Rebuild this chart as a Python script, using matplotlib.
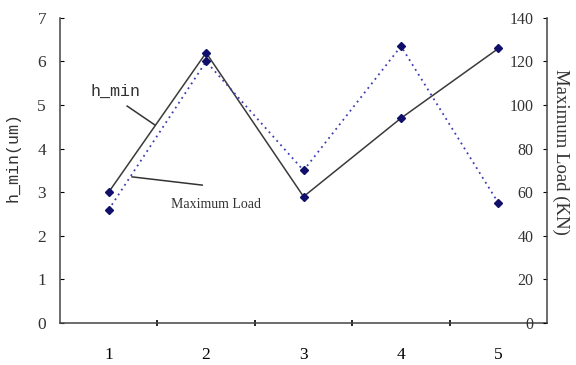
import matplotlib.pyplot as plt

categories = [1, 2, 3, 4, 5]
h_min = [3.0, 6.2, 2.9, 4.7, 6.3]
max_load = [52, 120, 70, 127, 55]
left_ticks = [0, 1, 2, 3, 4, 5, 6, 7]
right_ticks = [0, 20, 40, 60, 80, 100, 120, 140]

plt.rcParams['font.family'] = ['Liberation Serif', 'DejaVu Serif']

fig = plt.figure(figsize=(5.76, 3.65), dpi=100)
ax = fig.add_axes([0.104, 0.115, 0.846, 0.836])
ax2 = ax.twinx()

ax.plot(categories, h_min, color='#3a3a3a', lw=1.1, marker='D', ms=4,
        mfc='#10106a', mec='#10106a', zorder=3)
ax2.plot(categories, max_load, color='#3c3cb4', lw=1.3, ls=(0, (1, 2.2)),
         marker='D', ms=4, mfc='#10106a', mec='#10106a', zorder=3)

ax.set_xlim(0.5, 5.5)
ax.set_ylim(0, 7)
ax2.set_ylim(0, 140)

ax.set_xticks(categories)
ax.set_xticks([1.5, 2.5, 3.5, 4.5], minor=True)
ax.tick_params(axis='x', which='major', length=0, pad=17, labelsize=12.5)
ax.tick_params(axis='x', which='minor', direction='inout', length=5, width=1.2)

ax.set_yticks(left_ticks)
ax.tick_params(axis='y', direction='in', length=3, pad=10, labelsize=12.5,
               labelcolor='#333333')
ax2.set_yticks(right_ticks, labels=[str(t) for t in right_ticks], ha='right')
ax2.tick_params(axis='y', direction='in', length=3, pad=-10, labelsize=11.5,
                labelcolor='#333333')

for a in (ax, ax2):
    a.spines['top'].set_visible(False)
    for s in a.spines.values():
        s.set_color('#444444')
        s.set_linewidth(1.1)
ax.spines['right'].set_visible(False)
ax2.spines['left'].set_visible(False)
ax2.spines['bottom'].set_visible(False)

ax.set_ylabel('h_min(um)', fontsize=12, family='Liberation Mono', color='#333333')
ax.yaxis.set_label_coords(-0.08, 0.545)
ax2.set_ylabel('Maximum Load (KN)', fontsize=13.5, rotation=-90, color='#333333')
ax2.yaxis.set_label_coords(1.045, 0.56)

ax.text(0.115, 0.76, 'h_min', transform=ax.transAxes, ha='center', va='center',
        fontsize=12, family='Liberation Mono', color='#333333')
ax.plot([0.138, 0.195], [0.711, 0.649], transform=ax.transAxes,
        color='#333333', lw=1.1)
ax.text(0.32, 0.387, 'Maximum Load', transform=ax.transAxes, ha='center',
        va='center', fontsize=10, color='#333333')
ax.plot([0.148, 0.292], [0.479, 0.452], transform=ax.transAxes,
        color='#333333', lw=1.1)

fig.savefig('out.png', dpi=100)
